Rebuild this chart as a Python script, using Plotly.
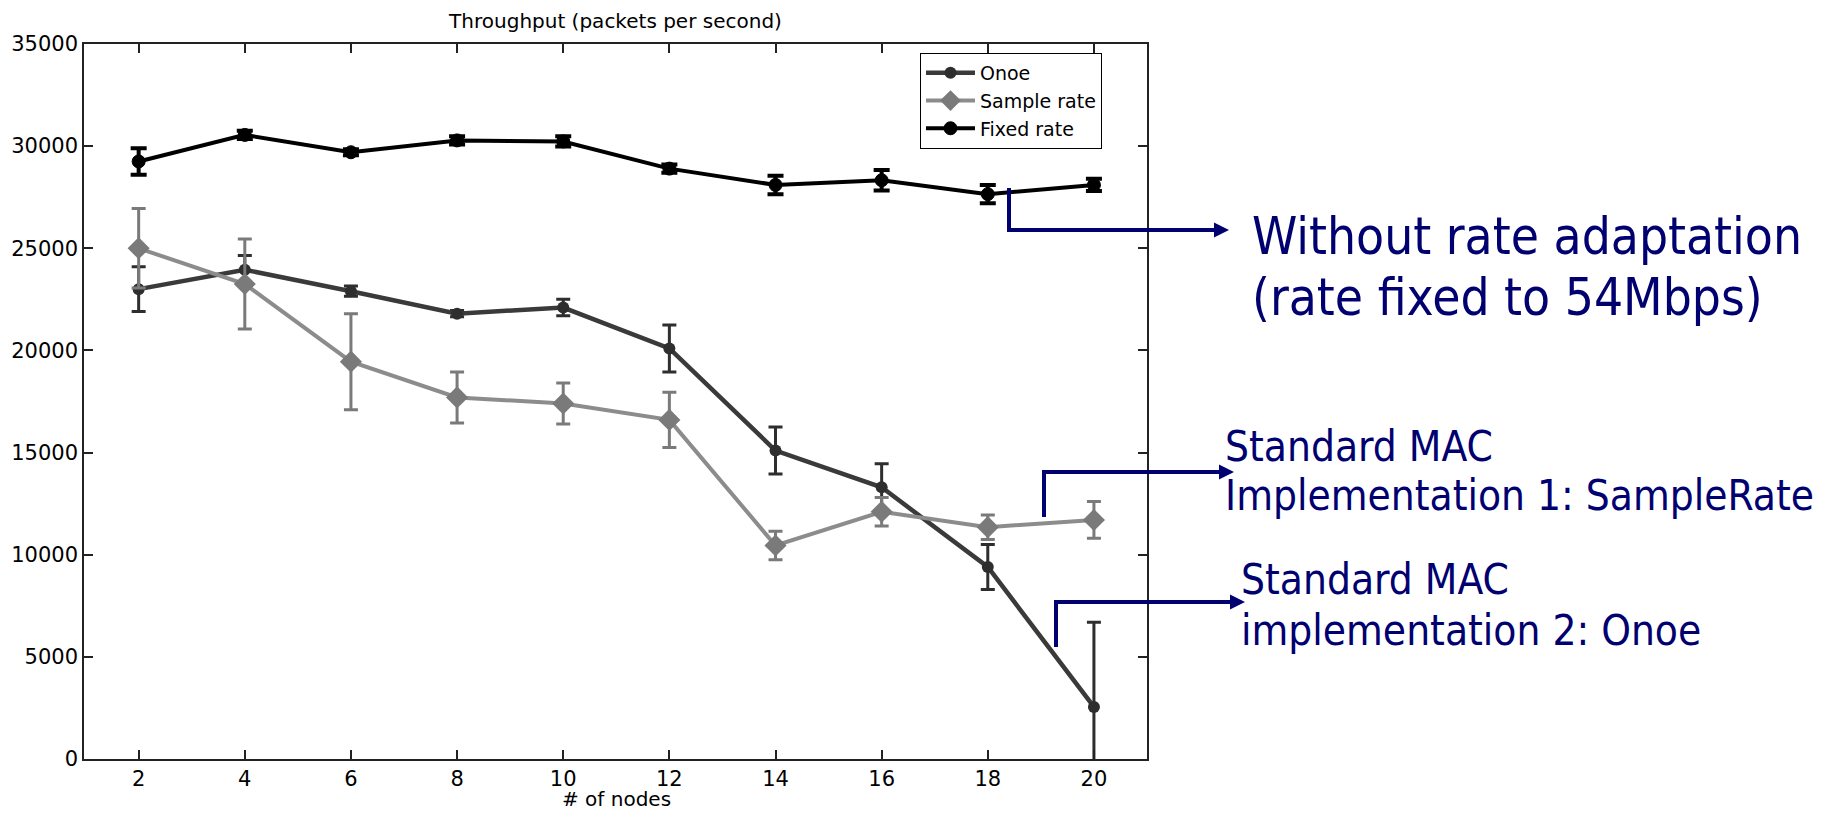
import plotly.graph_objects as go

# ---------------- data ----------------
nodes = [2, 4, 6, 8, 10, 12, 14, 16, 18, 20]

onoe = [23000, 23950, 22900, 21800, 22100, 20100, 15100, 13300, 9400, 2550]
onoe_err = [1100, 700, 250, 150, 400, 1150, 1150, 1150, 1100, 4150]

sample_rate = [25000, 23250, 19450, 17700, 17400, 16600, 10450, 12100, 11350, 11700]
sample_rate_err = [1950, 2200, 2350, 1250, 1000, 1350, 700, 700, 600, 900]

fixed_rate = [29250, 30550, 29700, 30280, 30230, 28900, 28100, 28330, 27650, 28100]
fixed_rate_err = [650, 200, 150, 200, 250, 200, 450, 500, 450, 300]

x_ticks = [2, 4, 6, 8, 10, 12, 14, 16, 18, 20]
y_ticks = [0, 5000, 10000, 15000, 20000, 25000, 30000, 35000]
y_tick_labels = ["0", "5000", "10000", "15000", "20000", "25000", "30000", "35000"]

# ---------------- layout geometry ----------------
W, H = 1834, 813
ML, MR, MT, MB = 84, 687, 44, 54
PW = W - ML - MR
PH = H - MT - MB


def px(xp):
    return (xp - ML) / PW


def py(yp):
    return (H - MB - yp) / PH


NAVY = "#000070"
AXFONT = "DejaVu Sans, Liberation Sans, Arial, sans-serif"
ANFONT = "DejaVu Sans Condensed, DejaVu Sans, sans-serif"

fig = go.Figure()

fig.add_trace(go.Scatter(
    x=nodes, y=onoe, name="Onoe", mode="lines+markers",
    line=dict(color="#3a3a3a", width=4.5),
    marker=dict(symbol="circle", size=12, color="#2e2e2e"),
    error_y=dict(type="data", array=onoe_err, color="#2e2e2e", thickness=3, width=7),
))
fig.add_trace(go.Scatter(
    x=nodes, y=sample_rate, name="Sample rate", mode="lines+markers",
    line=dict(color="#8c8c8c", width=4),
    marker=dict(symbol="diamond", size=17, color="#7a7a7a"),
    error_y=dict(type="data", array=sample_rate_err, color="#7a7a7a", thickness=3, width=7),
))
fig.add_trace(go.Scatter(
    x=nodes, y=fixed_rate, name="Fixed rate", mode="lines+markers",
    line=dict(color="black", width=4),
    marker=dict(symbol="circle", size=13, color="black",
                line=dict(color="black", width=1)),
    error_y=dict(type="data", array=fixed_rate_err, color="black", thickness=4, width=8),
))

axis_common = dict(
    showline=True, linecolor="#222222", linewidth=1.5, mirror="ticks",
    ticks="inside", ticklen=9, tickwidth=1.5, tickcolor="#222222",
    showgrid=False, zeroline=False,
    tickfont=dict(family=AXFONT, size=21, color="black"),
)

fig.update_xaxes(range=[0.97, 21.0], tickvals=x_ticks, automargin=False,
                 **axis_common)
fig.update_yaxes(range=[0, 35000], tickvals=y_ticks, ticktext=y_tick_labels,
                 automargin=False, **axis_common)

shapes = []
annotations = []

# x-axis title placed precisely
annotations.append(dict(xref="paper", yref="paper", x=px(616.7), y=py(799),
                        xanchor="center", yanchor="middle", showarrow=False,
                        text="# of nodes",
                        font=dict(family=AXFONT, size=20, color="black")))

# callout arrows: vertical stub + horizontal arrow
callouts = [
    # (x of stub, y top, y bottom, y of horizontal, tip x)
    (1009, 188, 232, 230, 1229),
    (1044, 470, 517, 472, 1234),
    (1056, 600, 647, 602, 1245),
]
for xs, yt, yb, yh, tip in callouts:
    shapes.append(dict(type="line", xref="paper", yref="paper",
                       x0=px(xs), x1=px(xs), y0=py(yt), y1=py(yb),
                       line=dict(color=NAVY, width=4)))
    annotations.append(dict(xref="paper", yref="paper", x=px(tip), y=py(yh),
                            ax=-(tip - xs) - 2, ay=0, axref="pixel", ayref="pixel",
                            text="", showarrow=True, arrowhead=2, arrowsize=0.75,
                            arrowwidth=4, arrowcolor=NAVY, standoff=0))

texts = [
    ("Without rate adaptation", 1250, 236, 51),
    ("(rate fixed to 54Mbps)", 1250, 297, 51),
    ("Standard MAC", 1223, 446, 42),
    ("Implementation 1: SampleRate", 1223, 496, 42),
    ("Standard MAC", 1239, 579, 42),
    ("implementation 2: Onoe", 1239, 630, 42),
]
for t, xl, ym, fs in texts:
    annotations.append(dict(xref="paper", yref="paper", x=px(xl), y=py(ym),
                            xanchor="left", yanchor="middle", showarrow=False,
                            text=t, font=dict(family=ANFONT, size=fs, color=NAVY)))

fig.update_layout(
    width=W, height=H,
    margin=dict(l=ML, r=MR, t=MT, b=MB),
    paper_bgcolor="white", plot_bgcolor="white",
    title=dict(text="Throughput (packets per second)", x=0.5, xref="paper",
               y=1 - 21 / H, yref="container", yanchor="middle", xanchor="center",
               font=dict(family=AXFONT, size=20, color="black")),
    legend=dict(x=px(920), y=py(53), xanchor="left", yanchor="top",
                bgcolor="white", bordercolor="black", borderwidth=1,
                font=dict(family=AXFONT, size=19, color="black"),
                tracegroupgap=0, itemwidth=49),
    shapes=shapes,
    annotations=annotations,
    showlegend=True,
)

fig.write_html("out.html", config={"displayModeBar": False},
               post_script="document.body.style.margin='0';")
